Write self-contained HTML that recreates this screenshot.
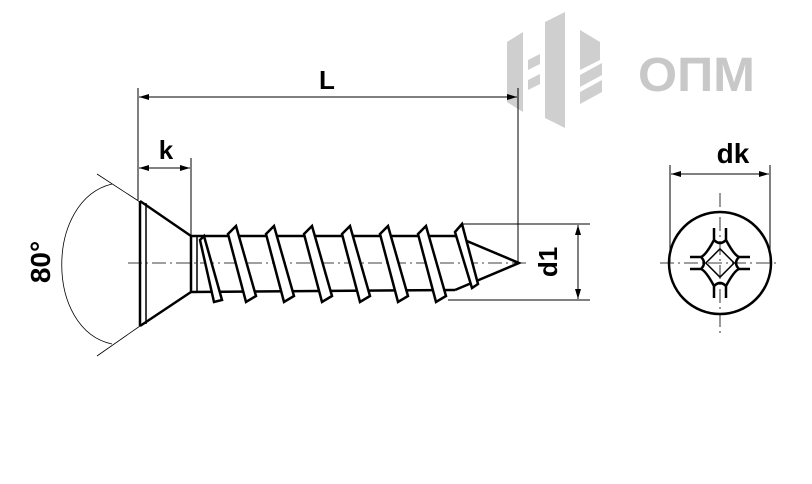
<!DOCTYPE html>
<html><head><style>body{margin:0;background:#fff}svg{display:block}</style></head><body>
<svg width="812" height="484" viewBox="0 0 812 484" xmlns="http://www.w3.org/2000/svg" font-family="Liberation Sans, sans-serif">
<defs>
<marker id="a" viewBox="0 0 10 6" refX="10" refY="3" markerWidth="10" markerHeight="6" orient="auto-start-reverse" markerUnits="userSpaceOnUse"><path d="M0,0L10,3L0,6z" fill="#000"/></marker>
</defs>
<!-- logo -->
<g fill="#cfcfcf">
<polygon points="507,42 523,32 523,112 507,102"/>
<polygon points="545,22 565,12 565,128 545,118"/>
<polygon points="580,30 600,42 600,60 580,70"/>
<polygon points="580,75 602,63 602,75 580,87"/>
<polygon points="580,92 602,80 602,92 580,104"/>
<polygon points="528,60 540,54 540,64 528,70"/>
<polygon points="528,80 540,74 540,84 528,90"/>
<text x="638" y="91" font-size="48" font-weight="bold" fill="#c8c8c8" textLength="117" lengthAdjust="spacingAndGlyphs">ОПМ</text>
</g>
<g stroke="#000" fill="none">
<line x1="138" y1="88" x2="138" y2="200" stroke-width="1"/>
<line x1="518" y1="88" x2="518" y2="262" stroke-width="1"/>
<line x1="139" y1="97" x2="517" y2="97" stroke-width="1" marker-start="url(#a)" marker-end="url(#a)"/>
<line x1="191" y1="158" x2="191" y2="236" stroke-width="1"/>
<line x1="139" y1="168" x2="190" y2="168" stroke-width="1" marker-start="url(#a)" marker-end="url(#a)"/>
<line x1="97" y1="174" x2="140" y2="202" stroke-width="0.8"/>
<line x1="97" y1="356" x2="140" y2="326" stroke-width="0.8"/>
<path d="M112,184 C45,200 45,330 112,344" stroke-width="0.8"/>
<line x1="128" y1="263" x2="528" y2="263" stroke-width="0.8" stroke-dasharray="14,4,2,4"/>
<line x1="140" y1="201" x2="140" y2="326" stroke-width="2.5"/>
<line x1="146" y1="203" x2="146" y2="324" stroke-width="1.5"/>
<path d="M140,201 L191,236 L191,292 L140,326" stroke-width="2.5"/>
<line x1="197" y1="236" x2="197" y2="292" stroke-width="1.5"/>
<path d="M191,236 L455,236 M191,292 L455,290" stroke-width="2.5"/>
<path d="M455,236 L519,263 L455,290" stroke-width="2.5"/>
<g stroke-width="2.5" fill="#fff">
<polygon points="228,234 236,226 256,296 246,302"/>
<polygon points="266,234 274,226 294,296 284,302"/>
<polygon points="304,234 312,226 332,296 322,302"/>
<polygon points="342,234 350,226 370,296 360,302"/>
<polygon points="380,234 388,226 408,296 398,302"/>
<polygon points="418,234 426,226 446,296 436,302"/>
<polygon points="455,232 462,224 478,284 472,288"/>
<polygon points="200,240 204,236 222,300 214,302"/>
</g>
<line x1="462" y1="224" x2="590" y2="224" stroke-width="1"/>
<line x1="448" y1="300" x2="590" y2="300" stroke-width="1"/>
<line x1="578" y1="225" x2="578" y2="299" stroke-width="1" marker-start="url(#a)" marker-end="url(#a)"/>
<line x1="670" y1="165" x2="670" y2="262" stroke-width="1"/>
<line x1="770" y1="165" x2="770" y2="262" stroke-width="1"/>
<line x1="671" y1="174" x2="769" y2="174" stroke-width="1" marker-start="url(#a)" marker-end="url(#a)"/>
<circle cx="720" cy="263" r="51" stroke-width="2.5"/>
<line x1="660" y1="263" x2="780" y2="263" stroke-width="0.8" stroke-dasharray="14,4,2,4"/>
<line x1="720" y1="193" x2="720" y2="333" stroke-width="0.8" stroke-dasharray="14,4,2,4"/>
<path d="M714,228 L714,240 Q720,246 726,240 L726,228 M714,298 L714,286 Q720,280 726,286 L726,298 M690,257 L701,257 Q707,263 701,269 L690,269 M750,257 L739,257 Q733,263 739,269 L750,269 M714,240 Q706,255 701,257 M726,240 Q734,255 739,257 M714,286 Q706,271 701,269 M726,286 Q734,271 739,269" stroke-width="2.5"/>
<rect x="710" y="253" width="20" height="20" transform="rotate(45 720 263)" stroke-width="1.5"/>
</g>
<g font-weight="bold" fill="#000">
<text x="327" y="89" font-size="26" text-anchor="middle">L</text>
<text x="166" y="159" font-size="26" text-anchor="middle">k</text>
<text x="733" y="163" font-size="28" text-anchor="middle">dk</text>
<text transform="translate(557,262) rotate(-90)" font-size="26" text-anchor="middle">d1</text>
<text transform="translate(50,262) rotate(-90)" font-size="28" text-anchor="middle">80°</text>
</g>
</svg>
</body></html>
